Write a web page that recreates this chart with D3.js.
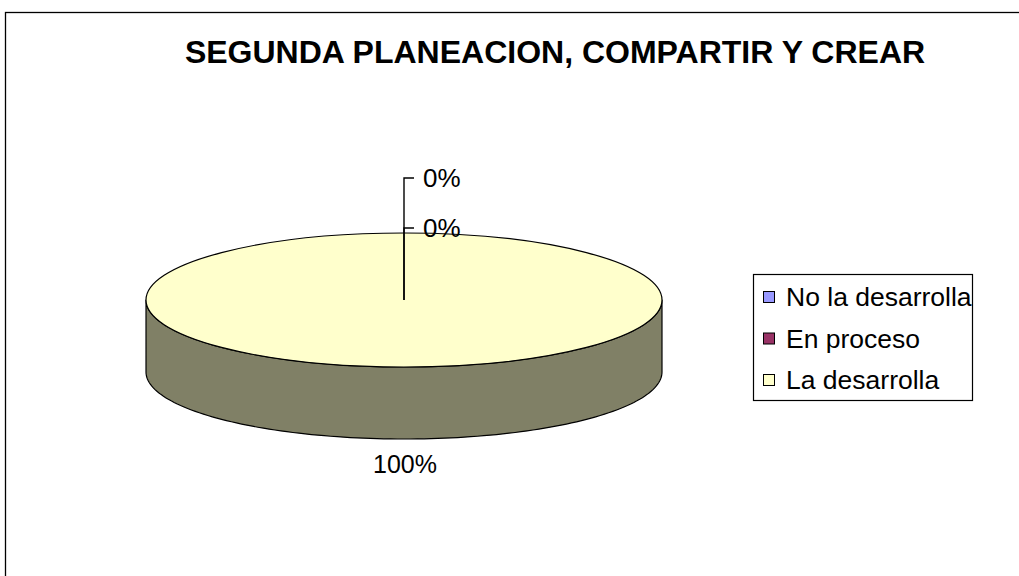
<!DOCTYPE html>
<html>
<head>
<meta charset="utf-8">
<script src="https://cdn.jsdelivr.net/npm/d3@7"></script>
<style>
  body { margin: 0; background: #fff; }
  svg { display: block; font-family: Arial, "Liberation Sans", sans-serif; }
</style>
</head>
<body>
<svg id="chart"></svg>
<script>
// data
const title = "SEGUNDA PLANEACION, COMPARTIR Y CREAR";
const categories = ["No la desarrolla", "En proceso", "La desarrolla"];
const values = [0, 0, 100];
const colors = ["#9999FF", "#993366", "#FFFFCC"];
const sideColors = ["#4d4d80", "#4d1a33", "#808066"];

const width = 1019, height = 576;
const cx = 404, cy = 300, rx = 258, ry = 67, depth = 72;

const svg = d3.select("#chart")
    .attr("width", width)
    .attr("height", height);

// outer frame (right / bottom edges fall outside the picture)
svg.append("rect")
    .attr("x", 5.5).attr("y", 12.5)
    .attr("width", 1100).attr("height", 700)
    .attr("fill", "#fff")
    .attr("stroke", "#000")
    .attr("stroke-width", 1.3);

svg.append("text")
    .attr("x", 555)
    .attr("y", 63)
    .attr("text-anchor", "middle")
    .attr("font-size", "32px")
    .attr("font-weight", "bold")
    .text(title);

const pie = d3.pie().sort(null).value(d => d)(values);
const total = d3.sum(values);
const pct = d3.format(".0%");

// point on the ellipse for a pie angle (0 = top, clockwise)
const pt = (a, dy) => [cx + rx * Math.sin(a), cy - ry * Math.cos(a) + (dy || 0)];

const chart = svg.append("g");

// side walls (front half only)
pie.forEach((s, i) => {
    const a0 = Math.max(s.startAngle, Math.PI / 2);
    const a1 = Math.min(s.endAngle, 3 * Math.PI / 2);
    if (a1 <= a0) return;
    const n = 120;
    const top = d3.range(n + 1).map(k => pt(a0 + (a1 - a0) * k / n));
    const bottom = top.map(p => [p[0], p[1] + depth]).reverse();
    chart.append("path")
        .attr("d", d3.line()(top.concat(bottom)) + "Z")
        .attr("fill", sideColors[i])
        .attr("stroke", "#000")
        .attr("stroke-width", 1.2)
        .attr("stroke-linejoin", "round");
});

// top faces
const arc = d3.arc().innerRadius(0).outerRadius(rx);
chart.selectAll("path.top")
    .data(pie.filter(d => d.value > 0))
    .join("path")
    .attr("class", "top")
    .attr("d", arc)
    .attr("transform", `translate(${cx},${cy}) scale(1,${ry / rx})`)
    .attr("fill", d => colors[d.index])
    .attr("stroke", "#000")
    .attr("stroke-width", 1.2)
    .attr("vector-effect", "non-scaling-stroke");

// labels
let zeroCount = 0;
const zeroSlices = pie.filter(d => d.value === 0).length;
pie.forEach(s => {
    const label = pct(s.value / total);
    if (s.value > 0) {
        const mid = (s.startAngle + s.endAngle) / 2;
        const p = s.endAngle - s.startAngle >= 2 * Math.PI ? [cx, cy + ry + depth] : pt(mid, depth);
        svg.append("text")
            .attr("x", p[0] + 1)
            .attr("y", p[1] + 34)
            .attr("text-anchor", "middle")
            .attr("font-size", "25px")
            .text(label);
    } else {
        // zero slices sit at the top: stacked labels with leader lines
        const ly = 178 + 50 * (zeroSlices - 1 - zeroCount);
        zeroCount++;
        svg.append("path")
            .attr("d", `M${cx},${cy}V${ly}H${cx + 10}`)
            .attr("fill", "none")
            .attr("stroke", "#000")
            .attr("stroke-width", 1.4);
        svg.append("text")
            .attr("x", cx + 19)
            .attr("y", ly + 9)
            .attr("font-size", "26px")
            .text(label);
    }
});

// legend
const legend = svg.append("g").attr("transform", "translate(753,274)");
legend.append("rect")
    .attr("x", 0.5).attr("y", 0.5)
    .attr("width", 219).attr("height", 126)
    .attr("fill", "#fff")
    .attr("stroke", "#000")
    .attr("stroke-width", 1.2);

const rowY = d3.scalePoint().domain(categories).range([23, 106]);
const items = legend.selectAll("g.item")
    .data(categories)
    .join("g")
    .attr("class", "item")
    .attr("transform", d => `translate(0,${rowY(d)})`);
items.append("rect")
    .attr("x", 10.5).attr("y", -5.5)
    .attr("width", 11).attr("height", 11)
    .attr("fill", (d, i) => colors[i])
    .attr("stroke", "#000")
    .attr("stroke-width", 1);
items.append("text")
    .attr("x", 33)
    .attr("y", 9)
    .attr("font-size", "26.5px")
    .text(d => d);
</script>
</body>
</html>
